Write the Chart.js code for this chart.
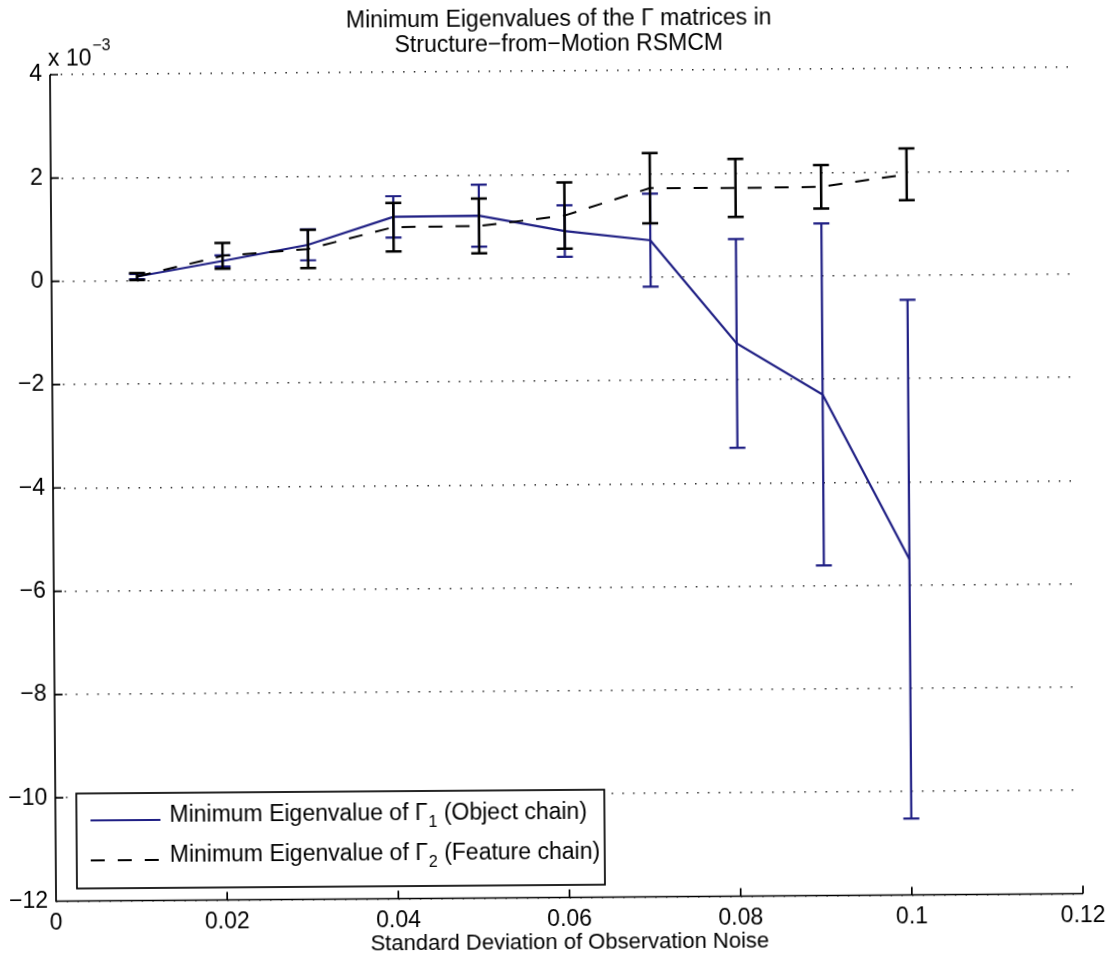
<!DOCTYPE html>
<html>
<head>
<meta charset="utf-8">
<script src="https://cdn.jsdelivr.net/npm/chart.js@4.4.1/dist/chart.umd.min.js"></script>
<style>
  html, body { margin: 0; padding: 0; background: #fff; overflow: hidden; }
  #wrap { width: 1114px; height: 962px; }
  canvas { display: block; transform: rotate(-0.42deg); transform-origin: 50% 50%; }
</style>
</head>
<body>
<div id="wrap"><canvas id="c" width="1114" height="962"></canvas></div>
<script>
// Standard deviation of the observation noise
const noiseLevels = [0.01, 0.02, 0.03, 0.04, 0.05, 0.06, 0.07, 0.08, 0.09, 0.10];

// Minimum eigenvalue of Gamma_1 (object chain), x 1e-3: mean and error half-width
const objectMin = [0.08, 0.37, 0.67, 1.20, 1.21, 0.90, 0.71, -1.30, -2.30, -5.50];
const objectErr = [0.05, 0.11, 0.30, 0.40, 0.60, 0.50, 0.90, 2.02, 3.31, 5.02];

// Minimum eigenvalue of Gamma_2 (feature chain), x 1e-3: mean and error half-width
const featureMin = [0.08, 0.47, 0.59, 1.00, 1.01, 1.20, 1.72, 1.71, 1.72, 1.95];
const featureErr = [0.07, 0.25, 0.37, 0.47, 0.53, 0.64, 0.68, 0.56, 0.42, 0.50];

// Axis ticks
const xTickValues = [0, 0.02, 0.04, 0.06, 0.08, 0.10, 0.12];
const xTickLabels = ['0', '0.02', '0.04', '0.06', '0.08', '0.1', '0.12'];
const yTickValues = [-12, -10, -8, -6, -4, -2, 0, 2, 4];
const yTickLabels = ['\u221212', '\u221210', '\u22128', '\u22126', '\u22124', '\u22122', '0', '2', '4'];

const titleLines = ['Minimum Eigenvalues of the \u0393 matrices in', 'Structure\u2212from\u2212Motion RSMCM'];
const xAxisTitle = 'Standard Deviation of Observation Noise';
const seriesNames = [
  { pre: 'Minimum Eigenvalue of \u0393', sub: '1', post: ' (Object chain)' },
  { pre: 'Minimum Eigenvalue of \u0393', sub: '2', post: ' (Feature chain)' }
];

const FONT = "'Liberation Sans', Arial, Helvetica, sans-serif";
const BLUE = '#1f1f84';
const BLACK = '#000000';
const DASH = [14, 13];

function toPoints(xs, ys) {
  return xs.map((x, i) => ({ x: x, y: ys[i] }));
}

// Vertical error bars with caps, drawn right after their own series
const errorBarPlugin = {
  id: 'errorBars',
  afterDatasetDraw(chart, args) {
    const ds = chart.data.datasets[args.index];
    if (!ds.errorValues) return;
    const ctx = chart.ctx;
    const xs = chart.scales.x, ys = chart.scales.y;
    const cap = 8;
    ctx.save();
    ctx.strokeStyle = ds.borderColor;
    ctx.lineWidth = ds.errorWidth;
    ctx.setLineDash([]);
    ctx.lineCap = 'butt';
    ds.data.forEach((p, i) => {
      const e = ds.errorValues[i];
      const px = xs.getPixelForValue(p.x);
      const top = ys.getPixelForValue(p.y + e);
      const bot = ys.getPixelForValue(p.y - e);
      ctx.beginPath();
      ctx.moveTo(px, top); ctx.lineTo(px, bot);
      ctx.moveTo(px - cap, top); ctx.lineTo(px + cap, top);
      ctx.moveTo(px - cap, bot); ctx.lineTo(px + cap, bot);
      ctx.stroke();
    });
    ctx.restore();
  }
};

function drawEntryText(ctx, x, y, entry) {
  ctx.font = '23px ' + FONT;
  ctx.fillText(entry.pre, x, y);
  let w = ctx.measureText(entry.pre).width + 1;
  ctx.font = '16px ' + FONT;
  ctx.fillText(entry.sub, x + w, y + 9);
  w += ctx.measureText(entry.sub).width;
  ctx.font = '23px ' + FONT;
  ctx.fillText(entry.post, x + w, y);
}

// Axis lines, inward ticks, title, exponent label and legend box
const decorPlugin = {
  id: 'decor',
  afterDraw(chart) {
    const ctx = chart.ctx;
    const a = chart.chartArea;
    const xs = chart.scales.x, ys = chart.scales.y;
    ctx.save();
    ctx.strokeStyle = '#000';
    ctx.lineWidth = 1.7;
    ctx.setLineDash([]);
    ctx.beginPath();
    ctx.moveTo(a.left, a.top); ctx.lineTo(a.left, a.bottom); ctx.lineTo(a.right, a.bottom);
    yTickValues.forEach(v => {
      const py = ys.getPixelForValue(v);
      ctx.moveTo(a.left, py); ctx.lineTo(a.left + 8, py);
    });
    xTickValues.forEach(v => {
      const px = xs.getPixelForValue(v);
      ctx.moveTo(px, a.bottom); ctx.lineTo(px, a.bottom - 8);
    });
    ctx.stroke();

    // Title
    ctx.fillStyle = '#000';
    ctx.textAlign = 'center';
    ctx.textBaseline = 'middle';
    ctx.font = '23px ' + FONT;
    ctx.fillText(titleLines[0], 562, 20);
    ctx.fillText(titleLines[1], 562, 45);

    // Exponent label of the y axis
    ctx.textAlign = 'left';
    ctx.font = '23px ' + FONT;
    ctx.fillText('x 10', a.left - 2, 56);
    const w10 = ctx.measureText('x 10').width;
    ctx.font = '16px ' + FONT;
    ctx.fillText('\u22123', a.left - 1 + w10, 43);

    // Legend
    const lx = a.left + 21, ly = 790, lw = 528, lh = 95;
    ctx.fillStyle = '#fff';
    ctx.fillRect(lx, ly, lw, lh);
    ctx.lineWidth = 1.7;
    ctx.strokeStyle = '#000';
    ctx.strokeRect(lx, ly, lw, lh);

    const rows = [813, 853];
    const styles = [
      { color: BLUE, dash: [] },
      { color: BLACK, dash: DASH }
    ];
    rows.forEach((ry, i) => {
      ctx.strokeStyle = styles[i].color;
      ctx.lineWidth = 2;
      ctx.setLineDash(styles[i].dash);
      ctx.beginPath();
      ctx.moveTo(lx + 14, ry + 4); ctx.lineTo(lx + 84, ry + 4);
      ctx.stroke();
      ctx.setLineDash([]);
      ctx.fillStyle = '#000';
      ctx.textAlign = 'left';
      ctx.textBaseline = 'middle';
      drawEntryText(ctx, lx + 93, ry, seriesNames[i]);
    });
    ctx.restore();
  }
};

const ctx = document.getElementById('c').getContext('2d');
new Chart(ctx, {
  type: 'line',
  data: {
    datasets: [
      {
        label: 'Object chain',
        data: toPoints(noiseLevels, objectMin),
        errorValues: objectErr,
        errorWidth: 2.2,
        borderColor: BLUE,
        borderWidth: 2.2,
        pointRadius: 0,
        fill: false,
        tension: 0,
        order: 1
      },
      {
        label: 'Feature chain',
        data: toPoints(noiseLevels, featureMin),
        errorValues: featureErr,
        errorWidth: 2.5,
        borderColor: BLACK,
        borderWidth: 2,
        borderDash: DASH,
        pointRadius: 0,
        fill: false,
        tension: 0,
        order: 0
      }
    ]
  },
  options: {
    responsive: false,
    animation: false,
    events: [],
    layout: { padding: { top: 71, right: 34, left: 0, bottom: 0 } },
    plugins: {
      legend: { display: false },
      tooltip: { enabled: false },
      title: { display: false }
    },
    scales: {
      x: {
        type: 'linear',
        min: 0,
        max: 0.12,
        afterBuildTicks: s => { s.ticks = xTickValues.map(v => ({ value: v })); },
        afterFit: s => { s.height = 64.5; },
        ticks: {
          callback: (v, i) => xTickLabels[i],
          font: { family: FONT, size: 23 },
          color: '#000',
          padding: 8,
          maxRotation: 0,
          autoSkip: false
        },
        grid: { display: false, drawTicks: false },
        border: { display: false },
        title: {
          display: true,
          text: xAxisTitle,
          color: '#000',
          font: { family: FONT, size: 22 },
          padding: { top: 0, bottom: 6 }
        }
      },
      y: {
        type: 'linear',
        min: -12,
        max: 4,
        afterBuildTicks: s => { s.ticks = yTickValues.map(v => ({ value: v })); },
        afterFit: s => { s.width = 53; },
        ticks: {
          callback: (v, i) => yTickLabels[i],
          font: { family: FONT, size: 23 },
          color: '#000',
          padding: 8,
          autoSkip: false
        },
        grid: { display: true, drawTicks: false, color: '#2a2a2a', lineWidth: 1.5 },
        border: { display: false, dash: [1.5, 9.2] }
      }
    }
  },
  plugins: [errorBarPlugin, decorPlugin]
});
</script>
</body>
</html>
